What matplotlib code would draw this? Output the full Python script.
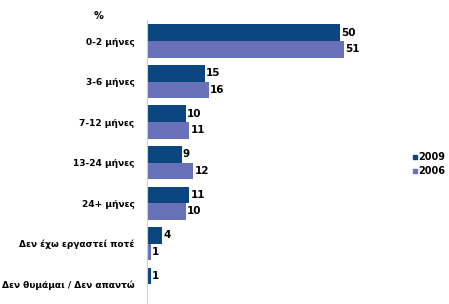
import matplotlib
matplotlib.use("Agg")
import matplotlib.pyplot as plt
from matplotlib.lines import Line2D
import numpy as np

categories = ["0-2 μήνες", "3-6 μήνες", "7-12 μήνες", "13-24 μήνες", "24+ μήνες",
              "Δεν έχω εργαστεί ποτέ", "Δεν θυμάμαι / Δεν απαντώ"]
vals_2009 = [50, 15, 10, 9, 11, 4, 1]
vals_2006 = [51, 16, 11, 12, 10, 1, None]

c_2009 = "#0c4680"
c_2006 = "#6971b8"

plt.rcParams["font.family"] = "DejaVu Sans"

fig = plt.figure(figsize=(4.49, 3.04), dpi=100)
ax = fig.add_axes([147 / 449, 0, 231.6 / 449, 284 / 304])

y = np.arange(len(categories))
h = 0.41
for i, (a, b) in enumerate(zip(vals_2009, vals_2006)):
    ax.barh(y[i] - h / 2, a, height=h, color=c_2009)
    ax.text(a + 0.3, y[i] - h / 2, str(a), va="center", ha="left",
            fontsize=7.5, fontweight="bold")
    if b is not None:
        ax.barh(y[i] + h / 2, b, height=h, color=c_2006)
        ax.text(b + 0.3, y[i] + h / 2, str(b), va="center", ha="left",
                fontsize=7.5, fontweight="bold")

ax.set_xlim(0, 60)
ax.set_ylim(6.49, -0.52)
ax.set_yticks(y)
ax.set_yticklabels(categories, fontsize=6.5, fontweight="bold")
ax.tick_params(axis="y", length=0, pad=9)
ax.set_xticks([])
for s in ["top", "right", "bottom"]:
    ax.spines[s].set_visible(False)
ax.spines["left"].set_color("#d0d0d0")
ax.spines["left"].set_linewidth(0.8)

fig.text(98 / 449, 1 - 16 / 304, "%", fontsize=7, fontweight="bold",
         ha="center", va="center")

handles = [Line2D([], [], marker="s", linestyle="none", color=c_2009, markersize=3.5),
           Line2D([], [], marker="s", linestyle="none", color=c_2006, markersize=3.5)]
fig.legend(handles, ["2009", "2006"], loc="center left",
           bbox_to_anchor=(403 / 449, 1 - 164 / 304), frameon=False,
           handlelength=0.6, handletextpad=0.1, labelspacing=0.4,
           prop={"weight": "bold", "size": 7})

fig.savefig("out.png", dpi=100)
